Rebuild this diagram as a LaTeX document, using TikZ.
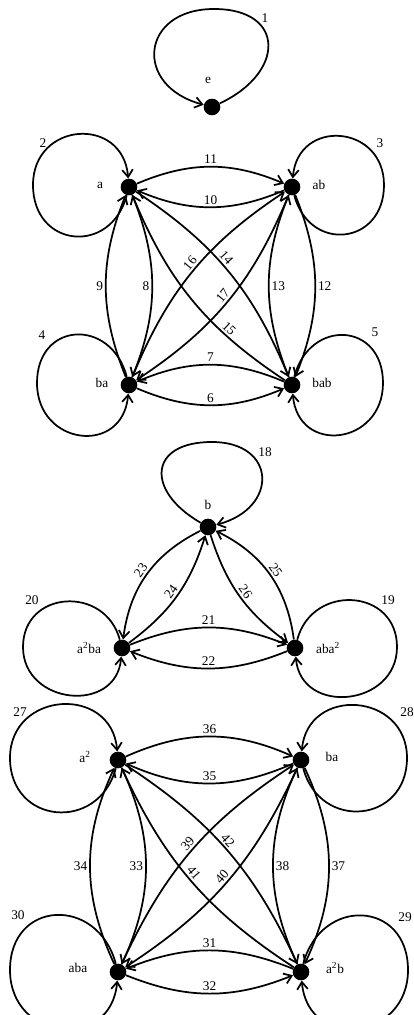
\documentclass[tikz,border=0pt]{standalone}
\usepackage{fontspec}
\setmainfont{Liberation Serif}
\usetikzlibrary{arrows.meta}

\tikzset{
  vtx/.style={circle, fill=black, inner sep=0pt, minimum size=12.5pt},
  edg/.style={line width=1.3pt, -{Straight Barb[length=5.5pt,width=8pt]}},
  num/.style={inner sep=1.5pt},
}

\begin{document}
\begin{tikzpicture}[x=0.75pt, y=0.75pt]
  \useasboundingbox (0,0) rectangle (414,1015);

  % identity
  \node[vtx] (e) at (212,908) {};
  \node (te) at (208,935) {e};
  \coordinate (e-n) at (214,1006);
  \draw[edg] (e) to[out=25,in=0,looseness=1.95] (e-n)
    to[out=180,in=165,looseness=1.95] (e);
  \node (l1) at (265,997) {1};

  % first block
  \node[vtx] (a) at (129,828) {};
  \node[vtx] (ab) at (292,828) {};
  \node[vtx] (ba) at (129,630) {};
  \node[vtx] (bab) at (292,630) {};
  \node (ta) at (100,830) {a};
  \node (tab) at (319,830) {ab};
  \node (tba) at (102,632) {ba};
  \node (tbab) at (322,632) {bab};

  % loops, far side of each circle
  \coordinate (a-w) at (33,830);
  \coordinate (ab-e) at (384,830);
  \coordinate (ba-w) at (37,632);
  \coordinate (bab-e) at (383,632);
  \draw[edg] (a) to[out=-105,in=-90,looseness=1.7] (a-w)
    to[out=90,in=95,looseness=1.7] (a);
  \draw[edg] (ab) to[out=-75,in=-90,looseness=1.7] (ab-e)
    to[out=90,in=85,looseness=1.7] (ab);
  \draw[edg] (ba) to[out=105,in=90,looseness=1.75] (ba-w)
    to[out=-90,in=-95,looseness=1.75] (ba);
  \draw[edg] (bab) to[out=75,in=90,looseness=1.75] (bab-e)
    to[out=-90,in=-85,looseness=1.75] (bab);
  \node (l2) at (43,872) {2};
  \node (l3) at (380,872) {3};
  \node (l4) at (42,680) {4};
  \node (l5) at (375,683) {5};

  \draw[edg] (a) to[bend left=23] node[num,above] {11} (ab);
  \draw[edg] (ab) to[bend left=23] node[num,above] {10} (a);
  \draw[edg] (bab) to[bend right=23] node[num,above] {7} (ba);
  \draw[edg] (ba) to[bend right=23] node[num,above] {6} (bab);
  \draw[edg] (ba) to[bend left=22] node[num,left] {9} (a);
  \draw[edg] (a) to[bend left=22] node[num,left] {8} (ba);
  \draw[edg] (bab) to[bend left=22] node[num,right] {13} (ab);
  \draw[edg] (ab) to[bend left=22] node[num,right] {12} (bab);
  \draw[edg] (a) to[bend left=17] node[num,sloped,above,pos=0.45] {14} (bab);
  \draw[edg] (bab) to[bend left=17] node[num,sloped,above,pos=0.3] {15} (a);
  \draw[edg] (ba) to[bend left=17] node[num,sloped,above,pos=0.52] {16} (ab);
  \draw[edg] (ab) to[bend left=17] node[num,sloped,above] {17} (ba);

  % second block
  \node[vtx] (b) at (208,488) {};
  \node[vtx] (aaba) at (122,367) {};
  \node[vtx] (abaa) at (295,367) {};
  \node (tb) at (208,510) {b};
  \node (taaba) at (89,367) {a\textsuperscript{2}ba};
  \node (tabaa) at (328,367) {aba\textsuperscript{2}};

  \coordinate (b-n) at (212,573);
  \coordinate (aaba-w) at (23,368);
  \coordinate (abaa-e) at (397,368);
  \draw[edg] (b) to[out=150,in=180,looseness=2.0] (b-n)
    to[out=0,in=15,looseness=2.0] (b);
  \draw[edg] (aaba) to[out=105,in=90,looseness=1.5] (aaba-w)
    to[out=-90,in=-95,looseness=1.5] (aaba);
  \draw[edg] (abaa) to[out=75,in=90,looseness=1.5] (abaa-e)
    to[out=-90,in=-85,looseness=1.5] (abaa);
  \node (l18) at (265,563) {18};
  \node (l20) at (32,415) {20};
  \node (l19) at (388,415) {19};

  \draw[edg] (aaba) to[bend left=22] node[num,above] {21} (abaa);
  \draw[edg] (abaa) to[bend left=22] node[num,above] {22} (aaba);
  \draw[edg] (b) to[bend right=28] node[num,sloped,above] {23} (aaba);
  \draw[edg] (aaba) to[bend right=18] node[num,sloped,above] {24} (b);
  \draw[edg] (abaa) to[bend right=28] node[num,sloped,above] {25} (b);
  \draw[edg] (b) to[bend right=18] node[num,sloped,above] {26} (abaa);

  % third block
  \node[vtx] (aa) at (118,255) {};
  \node[vtx] (bat) at (301,255) {};
  \node[vtx] (aba) at (118,43) {};
  \node[vtx] (aab) at (301,43) {};
  \node (taa) at (85,258) {a\textsuperscript{2}};
  \node (tbat) at (332,258) {ba};
  \node (taba) at (78,47) {aba};
  \node (taab) at (335,47) {a\textsuperscript{2}b};

  \coordinate (aa-w) at (10,257);
  \coordinate (bat-e) at (407,257);
  \coordinate (aba-w) at (10,45);
  \coordinate (aab-e) at (408,45);
  \draw[edg] (aa) to[out=-105,in=-90,looseness=1.6] (aa-w)
    to[out=90,in=95,looseness=1.6] (aa);
  \draw[edg] (bat) to[out=-75,in=-90,looseness=1.6] (bat-e)
    to[out=90,in=85,looseness=1.6] (bat);
  \draw[edg] (aba) to[out=105,in=90,looseness=1.7] (aba-w)
    to[out=-90,in=-95,looseness=1.7] (aba);
  \draw[edg] (aab) to[out=75,in=90,looseness=1.7] (aab-e)
    to[out=-90,in=-85,looseness=1.7] (aab);
  \node (l27) at (20,303) {27};
  \node (l28) at (407,303) {28};
  \node (l30) at (18,100) {30};
  \node (l29) at (405,98) {29};

  \draw[edg] (aa) to[bend left=24] node[num,above] {36} (bat);
  \draw[edg] (bat) to[bend left=24] node[num,above] {35} (aa);
  \draw[edg] (aba) to[bend left=25] node[num,left] {34} (aa);
  \draw[edg] (aa) to[bend left=25] node[num,left] {33} (aba);
  \draw[edg] (aab) to[bend left=25] node[num,right] {38} (bat);
  \draw[edg] (bat) to[bend left=25] node[num,right] {37} (aab);
  \draw[edg] (aab) to[bend right=22] node[num,above] {31} (aba);
  \draw[edg] (aba) to[bend right=22] node[num,above] {32} (aab);
  \draw[edg] (aa) to[bend left=16] node[num,sloped,above,pos=0.47] {42} (aab);
  \draw[edg] (aab) to[bend left=16] node[num,sloped,above,pos=0.52] {41} (aa);
  \draw[edg] (aba) to[bend left=16] node[num,sloped,above,pos=0.51] {39} (bat);
  \draw[edg] (bat) to[bend left=16] node[num,sloped,above] {40} (aba);
\end{tikzpicture}
\end{document}
